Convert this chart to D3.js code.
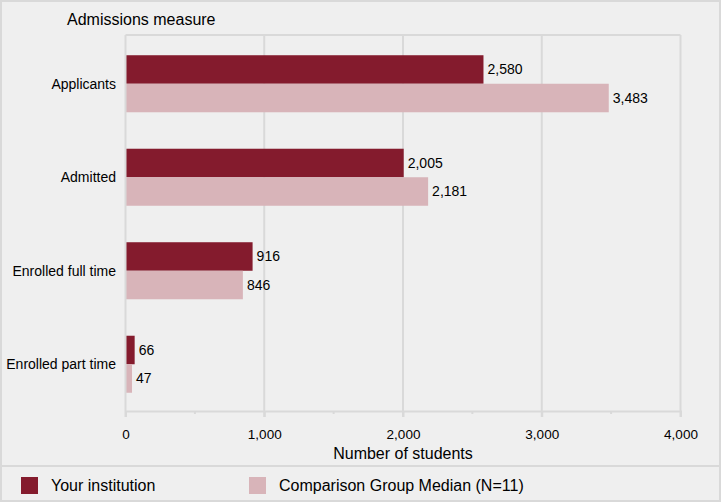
<!DOCTYPE html>
<html lang="en">
<head>
    <meta charset="UTF-8">
    <title>Admissions measure</title>
    <script src="https://cdnjs.cloudflare.com/ajax/libs/d3/7.8.5/d3.min.js"></script>
    <style>
        body {
            margin: 0;
            background-color: #efefef;
            font-family: Arial, "Liberation Sans", sans-serif;
        }
        svg text {
            fill: #000;
        }
    </style>
</head>
<body>
    <svg id="chart" width="721" height="502"></svg>

    <script>
        // Data
        const categories = ["Applicants", "Admitted", "Enrolled full time", "Enrolled part time"];
        const seriesNames = ["Your institution", "Comparison Group Median (N=11)"];
        const yourValues = [2580, 2005, 916, 66];
        const compValues = [3483, 2181, 846, 47];
        const xTicks = [0, 1000, 2000, 3000, 4000];
        const minorTicks = [500, 1500, 2500, 3500];

        const colors = ["#841b2d", "#d8b4b9"];
        const gridColor = "#d9d9d9";

        const width = 721;
        const height = 502;
        const plot = { left: 125.5, right: 680.5, top: 35, bottom: 411 };

        const svg = d3.select("#chart");

        // Background + outer border
        svg.append("rect")
            .attr("x", 1).attr("y", 1)
            .attr("width", width - 2).attr("height", height - 2)
            .attr("fill", "#efefef")
            .attr("stroke", gridColor)
            .attr("stroke-width", 2);

        // Scales
        const xScale = d3.scaleLinear()
            .domain([0, 4000])
            .range([plot.left, plot.right]);

        const yScale = d3.scaleBand()
            .domain(categories)
            .range([37, plot.bottom])
            .paddingInner(0.39)
            .paddingOuter(0.195);

        const ySub = d3.scaleBand()
            .domain([0, 1])
            .range([0, yScale.bandwidth()]);

        // Grid lines
        svg.append("g")
            .selectAll("line")
            .data(xTicks.slice(1))
            .enter()
            .append("line")
            .attr("x1", d => xScale(d))
            .attr("x2", d => xScale(d))
            .attr("y1", plot.top)
            .attr("y2", plot.bottom + 6)
            .attr("stroke", gridColor)
            .attr("stroke-width", 2);

        // Top border of plot area
        svg.append("line")
            .attr("x1", plot.left).attr("x2", plot.right)
            .attr("y1", plot.top).attr("y2", plot.top)
            .attr("stroke", gridColor).attr("stroke-width", 2);

        // Bottom axis
        const xAxis = svg.append("g")
            .attr("transform", `translate(0,${plot.bottom})`)
            .call(d3.axisBottom(xScale)
                .tickValues(xTicks)
                .tickSize(6)
                .tickPadding(12)
                .tickFormat(d3.format(",")));
        xAxis.select(".domain").attr("stroke", gridColor).attr("stroke-width", 2);
        xAxis.selectAll(".tick line").attr("stroke", gridColor).attr("stroke-width", 2);
        xAxis.selectAll(".tick text")
            .attr("font-size", 13.5)
            .attr("font-family", "Arial, 'Liberation Sans', sans-serif")
            .attr("fill", "#000");

        // Minor ticks
        svg.append("g")
            .selectAll("line")
            .data(minorTicks)
            .enter()
            .append("line")
            .attr("x1", d => xScale(d))
            .attr("x2", d => xScale(d))
            .attr("y1", plot.bottom)
            .attr("y2", plot.bottom + 3)
            .attr("stroke", gridColor)
            .attr("stroke-width", 2);

        // Bars
        const groups = svg.append("g")
            .selectAll("g")
            .data(categories)
            .enter()
            .append("g")
            .attr("transform", d => `translate(0,${yScale(d)})`);

        const rows = groups.selectAll("g.bar")
            .data((d, i) => [yourValues[i], compValues[i]])
            .enter()
            .append("g")
            .attr("class", "bar");

        rows.append("rect")
            .attr("x", xScale(0))
            .attr("y", (d, j) => ySub(j))
            .attr("width", d => xScale(d) - xScale(0))
            .attr("height", ySub.bandwidth())
            .attr("fill", (d, j) => colors[j]);

        rows.append("text")
            .attr("x", d => xScale(d) + 4)
            .attr("y", (d, j) => ySub(j) + ySub.bandwidth() / 2)
            .attr("dy", "0.35em")
            .attr("font-size", 14)
            .text(d => d3.format(",")(d));

        // Left axis line
        svg.append("line")
            .attr("x1", plot.left).attr("x2", plot.left)
            .attr("y1", plot.top).attr("y2", plot.bottom + 6)
            .attr("stroke", gridColor).attr("stroke-width", 2);

        // Category labels
        svg.append("g")
            .selectAll("text")
            .data(categories)
            .enter()
            .append("text")
            .attr("x", 116)
            .attr("y", d => yScale(d) + yScale.bandwidth() / 2)
            .attr("dy", "0.35em")
            .attr("text-anchor", "end")
            .attr("font-size", 14)
            .text(d => d);

        // Titles
        svg.append("text")
            .attr("x", 67).attr("y", 25)
            .attr("font-size", 16)
            .text("Admissions measure");

        svg.append("text")
            .attr("x", (plot.left + plot.right) / 2)
            .attr("y", 459)
            .attr("text-anchor", "middle")
            .attr("font-size", 16)
            .text("Number of students");

        // Legend
        svg.append("line")
            .attr("x1", 1).attr("x2", width - 1)
            .attr("y1", 466).attr("y2", 466)
            .attr("stroke", gridColor).attr("stroke-width", 2);

        const legendX = [21, 249];
        const legend = svg.append("g")
            .selectAll("g")
            .data(seriesNames)
            .enter()
            .append("g")
            .attr("transform", (d, i) => `translate(${legendX[i]},477)`);

        legend.append("rect")
            .attr("width", 17).attr("height", 17)
            .attr("fill", (d, i) => colors[i]);

        legend.append("text")
            .attr("x", 30).attr("y", 8.5)
            .attr("dy", "0.35em")
            .attr("font-size", 16)
            .text(d => d);
    </script>
</body>
</html>
